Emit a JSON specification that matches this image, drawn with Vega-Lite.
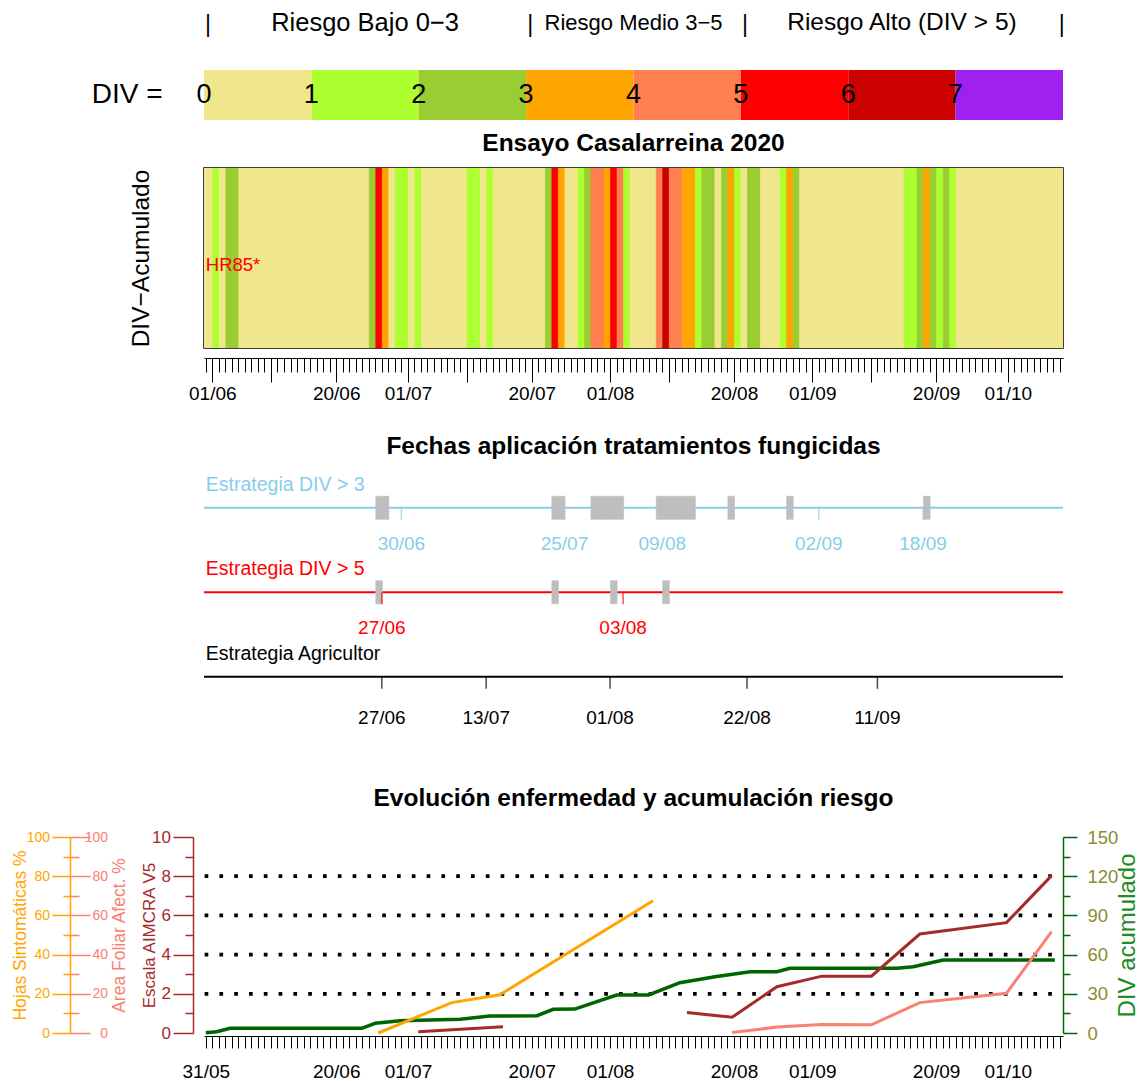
{
  "$schema": "https://vega.github.io/schema/vega-lite/v6.json",
  "autosize": {"type": "pad"},
  "padding": {"left": 11, "top": 0, "right": 0, "bottom": 0},
  "background": "white",
  "config": {
    "view": {"stroke": null},
    "font": "Liberation Sans",
    "title": {"fontSize": 24.5, "fontWeight": "bold", "color": "black", "anchor": "middle", "frame": "group"},
    "axis": {"grid": false, "domainColor": "black", "tickColor": "black", "labelColor": "black", "titleColor": "black", "titleFontWeight": "normal", "labelFont": "Liberation Sans", "titleFont": "Liberation Sans"}
  },
  "datasets": {
    "escala": [
      {"div": 0, "hasta": 1}, {"div": 1, "hasta": 2}, {"div": 2, "hasta": 3}, {"div": 3, "hasta": 4},
      {"div": 4, "hasta": 5}, {"div": 5, "hasta": 6}, {"div": 6, "hasta": 7}, {"div": 7, "hasta": 8}
    ],
    "diario": [
      {"fecha": "2020-05-30", "div": 0.5}, {"fecha": "2020-05-31", "div": 0.5},
      {"fecha": "2020-06-01", "div": 1.5}, {"fecha": "2020-06-02", "div": 0.5}, {"fecha": "2020-06-03", "div": 2.5}, {"fecha": "2020-06-04", "div": 2.5},
      {"fecha": "2020-06-05", "div": 0.5}, {"fecha": "2020-06-06", "div": 0.5}, {"fecha": "2020-06-07", "div": 0.5}, {"fecha": "2020-06-08", "div": 0.5},
      {"fecha": "2020-06-09", "div": 0.5}, {"fecha": "2020-06-10", "div": 0.5}, {"fecha": "2020-06-11", "div": 0.5}, {"fecha": "2020-06-12", "div": 0.5},
      {"fecha": "2020-06-13", "div": 0.5}, {"fecha": "2020-06-14", "div": 0.5}, {"fecha": "2020-06-15", "div": 0.5}, {"fecha": "2020-06-16", "div": 0.5},
      {"fecha": "2020-06-17", "div": 0.5}, {"fecha": "2020-06-18", "div": 0.5}, {"fecha": "2020-06-19", "div": 0.5}, {"fecha": "2020-06-20", "div": 0.5},
      {"fecha": "2020-06-21", "div": 0.5}, {"fecha": "2020-06-22", "div": 0.5}, {"fecha": "2020-06-23", "div": 0.5}, {"fecha": "2020-06-24", "div": 0.5},
      {"fecha": "2020-06-25", "div": 2.5}, {"fecha": "2020-06-26", "div": 5.5}, {"fecha": "2020-06-27", "div": 3.5}, {"fecha": "2020-06-28", "div": 0.5},
      {"fecha": "2020-06-29", "div": 1.5}, {"fecha": "2020-06-30", "div": 1.5},
      {"fecha": "2020-07-01", "div": 0.5}, {"fecha": "2020-07-02", "div": 1.5}, {"fecha": "2020-07-03", "div": 0.5}, {"fecha": "2020-07-04", "div": 0.5},
      {"fecha": "2020-07-05", "div": 0.5}, {"fecha": "2020-07-06", "div": 0.5}, {"fecha": "2020-07-07", "div": 0.5}, {"fecha": "2020-07-08", "div": 0.5},
      {"fecha": "2020-07-09", "div": 0.5}, {"fecha": "2020-07-10", "div": 1.5}, {"fecha": "2020-07-11", "div": 1.5}, {"fecha": "2020-07-12", "div": 0.5},
      {"fecha": "2020-07-13", "div": 1.5}, {"fecha": "2020-07-14", "div": 0.5}, {"fecha": "2020-07-15", "div": 0.5}, {"fecha": "2020-07-16", "div": 0.5},
      {"fecha": "2020-07-17", "div": 0.5}, {"fecha": "2020-07-18", "div": 0.5}, {"fecha": "2020-07-19", "div": 0.5}, {"fecha": "2020-07-20", "div": 0.5},
      {"fecha": "2020-07-21", "div": 0.5}, {"fecha": "2020-07-22", "div": 2.5}, {"fecha": "2020-07-23", "div": 5.5}, {"fecha": "2020-07-24", "div": 3.5},
      {"fecha": "2020-07-25", "div": 0.5}, {"fecha": "2020-07-26", "div": 0.5}, {"fecha": "2020-07-27", "div": 1.5}, {"fecha": "2020-07-28", "div": 2.5},
      {"fecha": "2020-07-29", "div": 4.5}, {"fecha": "2020-07-30", "div": 4.5}, {"fecha": "2020-07-31", "div": 3.5},
      {"fecha": "2020-08-01", "div": 5.5}, {"fecha": "2020-08-02", "div": 4.5}, {"fecha": "2020-08-03", "div": 1.5}, {"fecha": "2020-08-04", "div": 0.5},
      {"fecha": "2020-08-05", "div": 0.5}, {"fecha": "2020-08-06", "div": 0.5}, {"fecha": "2020-08-07", "div": 0.5}, {"fecha": "2020-08-08", "div": 4.5},
      {"fecha": "2020-08-09", "div": 6.5}, {"fecha": "2020-08-10", "div": 4.5}, {"fecha": "2020-08-11", "div": 4.5}, {"fecha": "2020-08-12", "div": 3.5},
      {"fecha": "2020-08-13", "div": 3.5}, {"fecha": "2020-08-14", "div": 1.5}, {"fecha": "2020-08-15", "div": 2.5}, {"fecha": "2020-08-16", "div": 2.5},
      {"fecha": "2020-08-17", "div": 0.5}, {"fecha": "2020-08-18", "div": 2.5}, {"fecha": "2020-08-19", "div": 3.5}, {"fecha": "2020-08-20", "div": 1.5},
      {"fecha": "2020-08-21", "div": 0.5}, {"fecha": "2020-08-22", "div": 2.5}, {"fecha": "2020-08-23", "div": 2.5}, {"fecha": "2020-08-24", "div": 0.5},
      {"fecha": "2020-08-25", "div": 0.5}, {"fecha": "2020-08-26", "div": 0.5}, {"fecha": "2020-08-27", "div": 1.5}, {"fecha": "2020-08-28", "div": 3.5},
      {"fecha": "2020-08-29", "div": 2.5}, {"fecha": "2020-08-30", "div": 0.5}, {"fecha": "2020-08-31", "div": 0.5},
      {"fecha": "2020-09-01", "div": 0.5}, {"fecha": "2020-09-02", "div": 0.5}, {"fecha": "2020-09-03", "div": 0.5}, {"fecha": "2020-09-04", "div": 0.5},
      {"fecha": "2020-09-05", "div": 0.5}, {"fecha": "2020-09-06", "div": 0.5}, {"fecha": "2020-09-07", "div": 0.5}, {"fecha": "2020-09-08", "div": 0.5},
      {"fecha": "2020-09-09", "div": 0.5}, {"fecha": "2020-09-10", "div": 0.5}, {"fecha": "2020-09-11", "div": 0.5}, {"fecha": "2020-09-12", "div": 0.5},
      {"fecha": "2020-09-13", "div": 0.5}, {"fecha": "2020-09-14", "div": 0.5}, {"fecha": "2020-09-15", "div": 1.5}, {"fecha": "2020-09-16", "div": 1.5},
      {"fecha": "2020-09-17", "div": 2.5}, {"fecha": "2020-09-18", "div": 3.5}, {"fecha": "2020-09-19", "div": 2.5}, {"fecha": "2020-09-20", "div": 1.5},
      {"fecha": "2020-09-21", "div": 2.5}, {"fecha": "2020-09-22", "div": 1.5}, {"fecha": "2020-09-23", "div": 0.5}, {"fecha": "2020-09-24", "div": 0.5},
      {"fecha": "2020-09-25", "div": 0.5}, {"fecha": "2020-09-26", "div": 0.5}, {"fecha": "2020-09-27", "div": 0.5}, {"fecha": "2020-09-28", "div": 0.5},
      {"fecha": "2020-09-29", "div": 0.5}, {"fecha": "2020-09-30", "div": 0.5},
      {"fecha": "2020-10-01", "div": 0.5}, {"fecha": "2020-10-02", "div": 0.5}, {"fecha": "2020-10-03", "div": 0.5}, {"fecha": "2020-10-04", "div": 0.5},
      {"fecha": "2020-10-05", "div": 0.5}, {"fecha": "2020-10-06", "div": 0.5}, {"fecha": "2020-10-07", "div": 0.5}, {"fecha": "2020-10-08", "div": 0.5},
      {"fecha": "2020-10-09", "div": 0.5}
    ],
    "estrategias": [
      {"estrategia": "DIV > 3", "nombre": "Estrategia DIV > 3"},
      {"estrategia": "DIV > 5", "nombre": "Estrategia DIV > 5"},
      {"estrategia": "Agricultor", "nombre": "Estrategia Agricultor"}
    ],
    "tratamientos": [
      {"estrategia": "DIV > 3", "fecha": "2020-06-30"}, {"estrategia": "DIV > 3", "fecha": "2020-07-25"},
      {"estrategia": "DIV > 3", "fecha": "2020-08-09"}, {"estrategia": "DIV > 3", "fecha": "2020-09-02"},
      {"estrategia": "DIV > 3", "fecha": "2020-09-18"},
      {"estrategia": "DIV > 5", "fecha": "2020-06-27"}, {"estrategia": "DIV > 5", "fecha": "2020-08-03"},
      {"estrategia": "Agricultor", "fecha": "2020-06-27"}, {"estrategia": "Agricultor", "fecha": "2020-07-13"},
      {"estrategia": "Agricultor", "fecha": "2020-08-01"}, {"estrategia": "Agricultor", "fecha": "2020-08-22"},
      {"estrategia": "Agricultor", "fecha": "2020-09-11"}
    ],
    "aimcra": [
      {"tramo": 1, "fecha": "2020-07-02T14:00:00Z", "valor": 0.07},
      {"tramo": 1, "fecha": "2020-07-15T14:00:00Z", "valor": 0.32},
      {"tramo": 2, "fecha": "2020-08-12T19:00:00Z", "valor": 1.04},
      {"tramo": 2, "fecha": "2020-08-19T17:00:00Z", "valor": 0.8},
      {"tramo": 2, "fecha": "2020-08-26T14:00:00Z", "valor": 2.36},
      {"tramo": 2, "fecha": "2020-09-02T12:00:00Z", "valor": 2.9},
      {"tramo": 2, "fecha": "2020-09-10T02:00:00Z", "valor": 2.9},
      {"tramo": 2, "fecha": "2020-09-17T12:00:00Z", "valor": 5.05},
      {"tramo": 2, "fecha": "2020-09-30T19:00:00Z", "valor": 5.63},
      {"tramo": 2, "fecha": "2020-10-07T17:00:00Z", "valor": 8.03}
    ],
    "hojas": [
      {"fecha": "2020-06-26T11:00:00Z", "valor": 0},
      {"fecha": "2020-07-07T17:00:00Z", "valor": 15.5},
      {"fecha": "2020-07-15T02:00:00Z", "valor": 19.5},
      {"fecha": "2020-08-07T14:00:00Z", "valor": 67.5}
    ],
    "area": [
      {"fecha": "2020-08-19T17:00:00Z", "valor": 0.3},
      {"fecha": "2020-08-26T14:00:00Z", "valor": 3.0},
      {"fecha": "2020-09-02T12:00:00Z", "valor": 4.3},
      {"fecha": "2020-09-10T02:00:00Z", "valor": 4.2},
      {"fecha": "2020-09-17T12:00:00Z", "valor": 15.5},
      {"fecha": "2020-09-30T19:00:00Z", "valor": 20.3},
      {"fecha": "2020-10-07T17:00:00Z", "valor": 51.7}
    ],
    "divacum": [
      {"fecha": "2020-05-31T00:00:00Z", "valor": 0.2},
      {"fecha": "2020-06-01T16:00:00Z", "valor": 1.0},
      {"fecha": "2020-06-03T17:00:00Z", "valor": 3.6},
      {"fecha": "2020-06-23T22:00:00Z", "valor": 3.6},
      {"fecha": "2020-06-26T00:00:00Z", "valor": 7.4},
      {"fecha": "2020-06-29T19:00:00Z", "valor": 9.4},
      {"fecha": "2020-07-09T00:00:00Z", "valor": 10.5},
      {"fecha": "2020-07-13T14:00:00Z", "valor": 13.0},
      {"fecha": "2020-07-20T19:00:00Z", "valor": 13.2},
      {"fecha": "2020-07-23T07:00:00Z", "valor": 18.1},
      {"fecha": "2020-07-26T14:00:00Z", "valor": 18.3},
      {"fecha": "2020-08-02T00:00:00Z", "valor": 29.1},
      {"fecha": "2020-08-06T22:00:00Z", "valor": 29.1},
      {"fecha": "2020-08-11T17:00:00Z", "valor": 38.5},
      {"fecha": "2020-08-17T02:00:00Z", "valor": 43.1},
      {"fecha": "2020-08-22T12:00:00Z", "valor": 46.9},
      {"fecha": "2020-08-26T14:00:00Z", "valor": 46.9},
      {"fecha": "2020-08-28T14:00:00Z", "valor": 49.5},
      {"fecha": "2020-09-14T00:00:00Z", "valor": 49.5},
      {"fecha": "2020-09-16T12:00:00Z", "valor": 50.7},
      {"fecha": "2020-09-21T02:00:00Z", "valor": 55.9},
      {"fecha": "2020-10-08T05:00:00Z", "valor": 55.9}
    ]
  },
  "spacing": 48,
  "bounds": "flush",
  "resolve": {"scale": {"color": "independent", "x": "independent", "y": "independent"}},
  "vconcat": [
    {
      "width": 859,
      "height": 120,
      "layer": [
        {
          "data": {"name": "escala"},
          "mark": {"type": "rect"},
          "encoding": {
            "x": {"field": "div", "type": "quantitative", "scale": {"domain": [0, 8], "nice": false, "zero": false}, "axis": null},
            "x2": {"field": "hasta"},
            "y": {"datum": "DIV =", "type": "nominal", "scale": {"type": "band", "domain": ["rango", "DIV ="], "paddingInner": 0.2857, "paddingOuter": 0},
                  "axis": {"title": null, "domain": false, "ticks": false, "labelExpr": "datum.value == 'DIV =' ? 'DIV =' : ''", "labelFontSize": 28, "labelPadding": 42, "labelColor": "black"}},
            "color": {"field": "div", "type": "quantitative", "legend": null,
                      "scale": {"type": "threshold", "domain": [1, 2, 3, 4, 5, 6, 7], "range": ["#F0E68C", "#ADFF2F", "#9ACD32", "#FFA500", "#FF7F50", "#FF0000", "#CD0000", "#A020F0"]}}
          }
        },
        {
          "data": {"name": "escala"},
          "mark": {"type": "text", "fontSize": 27, "color": "black", "baseline": "middle", "align": "center"},
          "encoding": {
            "x": {"field": "div", "type": "quantitative"},
            "y": {"datum": "DIV =", "type": "nominal"},
            "text": {"field": "div", "type": "quantitative", "format": "d"}
          }
        },
        {
          "data": {"values": [{"texto": "|", "div": 0}, {"texto": "|", "div": 3}, {"texto": "|", "div": 5}, {"texto": "|", "div": 7.95}]},
          "mark": {"type": "text", "fontSize": 23, "color": "black", "baseline": "middle", "align": "center", "dx": 4},
          "encoding": {
            "x": {"field": "div", "type": "quantitative"},
            "y": {"datum": "rango", "type": "nominal"},
            "text": {"field": "texto"}
          }
        },
        {
          "data": {"values": [{"texto": "Riesgo Bajo 0−3", "div": 1.5}]},
          "mark": {"type": "text", "fontSize": 25.5, "color": "black", "baseline": "middle", "align": "center", "dy": -2},
          "encoding": {"x": {"field": "div", "type": "quantitative"}, "y": {"datum": "rango", "type": "nominal"}, "text": {"field": "texto"}}
        },
        {
          "data": {"values": [{"texto": "Riesgo Medio 3−5", "div": 4}]},
          "mark": {"type": "text", "fontSize": 22, "color": "black", "baseline": "middle", "align": "center", "dy": -2},
          "encoding": {"x": {"field": "div", "type": "quantitative"}, "y": {"datum": "rango", "type": "nominal"}, "text": {"field": "texto"}}
        },
        {
          "data": {"values": [{"texto": "Riesgo Alto (DIV > 5)", "div": 6.5}]},
          "mark": {"type": "text", "fontSize": 24.5, "color": "black", "baseline": "middle", "align": "center", "dy": -2},
          "encoding": {"x": {"field": "div", "type": "quantitative"}, "y": {"datum": "rango", "type": "nominal"}, "text": {"field": "texto"}}
        }
      ]
    },
    {
      "spacing": 117.5,
      "bounds": "flush",
      "resolve": {"scale": {"color": "independent", "x": "independent", "y": "independent"}},
      "vconcat": [
        {
          "width": 859,
          "height": 180,
          "title": {"text": "Ensayo Casalarreina 2020", "offset": 12},
          "view": {"stroke": "black", "strokeWidth": 1.5},
          "layer": [
            {
              "data": {"name": "diario"},
              "mark": {"type": "rect", "clip": true, "binSpacing": 0, "strokeWidth": 0.7},
              "encoding": {
                "x": {"field": "fecha", "type": "temporal", "timeUnit": "utcyearmonthdate",
                      "scale": {"type": "utc", "nice": false, "domain": [{"year": 2020, "month": 5, "date": 30, "hours": 17, "minutes": 30, "utc": true}, {"year": 2020, "month": 10, "date": 9, "hours": 11, "utc": true}]},
                      "axis": {"orient": "bottom", "offset": 10, "title": null, "tickCount": {"interval": "day", "step": 1},
                               "tickSize": {"condition": {"test": "utcdate(datum.value) == 1 || utcdate(datum.value) == 10 || utcdate(datum.value) == 20", "value": 24}, "value": 14},
                               "labelExpr": "utcdate(datum.value) == 1 || utcdate(datum.value) == 20 ? utcFormat(datum.value, '%d/%m') : ''",
                               "labelOverlap": false, "labelFlush": false, "labelBound": false, "labelFontSize": 19, "labelPadding": 2, "domainWidth": 1, "tickWidth": 1}},
                "y": {"datum": 0, "type": "quantitative", "scale": {"domain": [0, 1], "nice": false}},
                "y2": {"datum": 1},
                "color": {"field": "div", "type": "quantitative", "legend": null,
                          "scale": {"type": "threshold", "domain": [1, 2, 3, 4, 5, 6, 7], "range": ["#F0E68C", "#ADFF2F", "#9ACD32", "#FFA500", "#FF7F50", "#FF0000", "#CD0000", "#A020F0"]}},
                "stroke": {"field": "div", "type": "quantitative", "legend": null,
                          "scale": {"type": "threshold", "domain": [1, 2, 3, 4, 5, 6, 7], "range": ["#F0E68C", "#ADFF2F", "#9ACD32", "#FFA500", "#FF7F50", "#FF0000", "#CD0000", "#A020F0"]}}
              }
            },
            {
              "data": {"values": [{"texto": "HR85*", "fecha": "2020-05-31"}]},
              "mark": {"type": "text", "align": "left", "baseline": "middle", "color": "#FF0000", "fontSize": 18.5},
              "encoding": {
                "x": {"field": "fecha", "type": "temporal"},
                "y": {"datum": 0.46, "type": "quantitative",
                      "axis": {"title": "DIV−Acumulado", "labels": false, "ticks": false, "domain": false, "titleFontSize": 24.5, "titlePadding": 51}},
                "text": {"field": "texto"}
              }
            }
          ]
        },
        {
          "width": 859,
          "height": 253.6,
          "title": {"text": "Fechas aplicación tratamientos fungicidas", "offset": 6},
          "layer": [
            {
              "data": {"name": "estrategias"},
              "mark": {"type": "rule", "strokeWidth": 2},
              "encoding": {
                "y": {"field": "estrategia", "type": "nominal", "bandPosition": 0.5, "axis": null,
                      "scale": {"type": "band", "domain": ["DIV > 3", "DIV > 5", "Agricultor"], "paddingInner": 0.7278, "paddingOuter": 0.364}},
                "color": {"field": "estrategia", "type": "nominal", "legend": null, "scale": {"domain": ["DIV > 3", "DIV > 5", "Agricultor"], "range": ["#87CEEB", "#FF0000", "#000000"]}}
              }
            },
            {
              "data": {"name": "diario"},
              "transform": [{"filter": "datum.div > 3"}],
              "mark": {"type": "rect", "color": "#BEBEBE", "stroke": "#BEBEBE", "strokeWidth": 0.7, "binSpacing": 0},
              "encoding": {
                "x": {"field": "fecha", "type": "temporal", "timeUnit": "utcyearmonthdate", "axis": null,
                      "scale": {"type": "utc", "nice": false, "domain": [{"year": 2020, "month": 5, "date": 30, "hours": 17, "minutes": 30, "utc": true}, {"year": 2020, "month": 10, "date": 9, "hours": 11, "utc": true}]}},
                "y": {"datum": "DIV > 3", "type": "nominal"}
              }
            },
            {
              "data": {"name": "diario"},
              "transform": [{"filter": "datum.div > 5"}],
              "mark": {"type": "rect", "color": "#BEBEBE", "stroke": "#BEBEBE", "strokeWidth": 0.7, "binSpacing": 0},
              "encoding": {
                "x": {"field": "fecha", "type": "temporal", "timeUnit": "utcyearmonthdate", "axis": null},
                "y": {"datum": "DIV > 5", "type": "nominal"}
              }
            },
            {
              "data": {"name": "tratamientos"},
              "mark": {"type": "tick", "size": 12, "thickness": 1.5, "yOffset": 6},
              "encoding": {
                "x": {"field": "fecha", "type": "temporal", "axis": null},
                "y": {"field": "estrategia", "type": "nominal"},
                "color": {"field": "estrategia", "type": "nominal", "legend": null}
              }
            },
            {
              "data": {"name": "tratamientos"},
              "transform": [{"filter": "datum.estrategia != 'Agricultor'"}],
              "mark": {"type": "text", "fontSize": 19, "baseline": "middle", "align": "center", "dy": 36},
              "encoding": {
                "x": {"field": "fecha", "type": "temporal", "axis": null},
                "y": {"field": "estrategia", "type": "nominal"},
                "color": {"field": "estrategia", "type": "nominal", "legend": null},
                "text": {"field": "fecha", "type": "temporal", "timeUnit": "utcmonthdate", "format": "%d/%m"}
              }
            },
            {
              "data": {"name": "tratamientos"},
              "transform": [{"filter": "datum.estrategia == 'Agricultor'"}],
              "mark": {"type": "text", "fontSize": 19, "baseline": "middle", "align": "center", "dy": 41},
              "encoding": {
                "x": {"field": "fecha", "type": "temporal", "axis": null},
                "y": {"field": "estrategia", "type": "nominal"},
                "color": {"field": "estrategia", "type": "nominal", "legend": null},
                "text": {"field": "fecha", "type": "temporal", "timeUnit": "utcmonthdate", "format": "%d/%m"}
              }
            },
            {
              "data": {"name": "estrategias"},
              "mark": {"type": "text", "fontSize": 19.5, "baseline": "middle", "align": "left", "dy": -23},
              "encoding": {
                "x": {"datum": {"year": 2020, "month": 5, "date": 31, "utc": true}, "type": "temporal", "axis": null},
                "y": {"field": "estrategia", "type": "nominal"},
                "color": {"field": "estrategia", "type": "nominal", "legend": null},
                "text": {"field": "nombre"}
              }
            }
          ]
        },
        {
          "width": 859,
          "height": 196,
          "title": {"text": "Evolución enfermedad y acumulación riesgo", "offset": 17},
          "resolve": {"scale": {"y": "independent"}, "axis": {"y": "independent"}},
          "layer": [
            {
              "data": {"values": [{"nivel": 2}, {"nivel": 4}, {"nivel": 6}, {"nivel": 8}]},
              "mark": {"type": "rule", "color": "black", "strokeWidth": 3.7, "strokeDash": [3.7, 11.1], "strokeDashOffset": 3.7},
              "encoding": {"y": {"field": "nivel", "type": "quantitative", "scale": {"domain": [0, 10], "nice": false}, "axis": null}}
            },
            {
              "data": {"name": "divacum"},
              "mark": {"type": "line", "color": "#006400", "strokeWidth": 3.5},
              "encoding": {
                "x": {"field": "fecha", "type": "temporal",
                      "scale": {"type": "utc", "nice": false, "domain": [{"year": 2020, "month": 5, "date": 30, "hours": 17, "minutes": 30, "utc": true}, {"year": 2020, "month": 10, "date": 9, "hours": 11, "utc": true}]},
                      "axis": {"orient": "bottom", "offset": 3, "title": null, "tickCount": {"interval": "day", "step": 1}, "tickSize": 12,
                               "labelExpr": "(utcdate(datum.value) == 20 || (utcdate(datum.value) == 1 && utcmonth(datum.value) != 5) || (utcdate(datum.value) == 31 && utcmonth(datum.value) == 4)) ? utcFormat(datum.value, '%d/%m') : ''",
                               "labelOverlap": false, "labelFlush": false, "labelBound": false, "labelFontSize": 19, "labelPadding": 14}},
                "y": {"field": "valor", "type": "quantitative", "scale": {"domain": [0, 150], "nice": false},
                      "axis": {"orient": "right", "offset": 0, "values": [0, 15, 30, 45, 60, 75, 90, 105, 120, 135, 150],
                               "tickSize": {"condition": {"test": "datum.value % 30 == 0", "value": 14}, "value": 7},
                               "labelExpr": "datum.value % 30 == 0 ? datum.label : ''", "labelFontSize": 18.5, "labelColor": "#8B8B30", "labelPadding": 10,
                               "labelOverlap": false, "labelFlush": false, "labelBound": false,
                               "domainColor": "#006400", "tickColor": "#006400", "domainWidth": 1.5, "tickWidth": 1.5,
                               "title": "DIV acumulado", "titleColor": "#228B22", "titleFontSize": 24, "titleAngle": 270, "titleBaseline": "top", "titlePadding": -2}}
              }
            },
            {
              "data": {"name": "aimcra"},
              "mark": {"type": "line", "color": "#A52A2A", "strokeWidth": 3},
              "encoding": {
                "x": {"field": "fecha", "type": "temporal"},
                "y": {"field": "valor", "type": "quantitative", "scale": {"domain": [0, 10], "nice": false},
                      "axis": {"orient": "left", "offset": 11, "values": [0, 1, 2, 3, 4, 5, 6, 7, 8, 9, 10],
                               "tickSize": {"condition": {"test": "datum.value % 2 == 0", "value": 20}, "value": 8},
                               "labelExpr": "datum.value % 2 == 0 ? datum.label : ''", "labelFontSize": 17, "labelColor": "#A52A2A", "labelPadding": 2.5,
                               "labelOverlap": false, "labelFlush": false, "labelBound": false,
                               "domainColor": "#A52A2A", "tickColor": "#A52A2A", "domainWidth": 1.5, "tickWidth": 1.5,
                               "title": "Escala AIMCRA V5", "titleColor": "#A52A2A", "titleFontSize": 17, "titlePadding": -6.5}},
                "detail": {"field": "tramo", "type": "nominal"}
              }
            },
            {
              "data": {"name": "hojas"},
              "mark": {"type": "line", "color": "#FFA500", "strokeWidth": 3},
              "encoding": {
                "x": {"field": "fecha", "type": "temporal"},
                "y": {"field": "valor", "type": "quantitative", "scale": {"domain": [0, 100], "nice": false},
                      "axis": {"orient": "left", "offset": 134, "values": [0, 10, 20, 30, 40, 50, 60, 70, 80, 90, 100],
                               "tickSize": {"condition": {"test": "datum.value % 20 == 0", "value": 18}, "value": 7},
                               "labelExpr": "datum.value % 20 == 0 ? datum.label : ''", "labelFont": "Liberation Sans Narrow, Liberation Sans", "labelFontSize": 14, "labelColor": "#FFA500", "labelPadding": 2.5,
                               "labelOverlap": false, "labelFlush": false, "labelBound": false,
                               "domainColor": "#FFA500", "tickColor": "#FFA500", "domainWidth": 1.5, "tickWidth": 1.5,
                               "title": "Hojas Sintomáticas %", "titleColor": "#FFA500", "titleFontSize": 17.5, "titlePadding": -3.5}}
              }
            },
            {
              "data": {"name": "area"},
              "mark": {"type": "line", "color": "#FA8072", "strokeWidth": 3},
              "encoding": {
                "x": {"field": "fecha", "type": "temporal"},
                "y": {"field": "valor", "type": "quantitative", "scale": {"domain": [0, 100], "nice": false},
                      "axis": {"orient": "right", "offset": -993, "values": [0, 10, 20, 30, 40, 50, 60, 70, 80, 90, 100],
                               "tickSize": {"condition": {"test": "datum.value % 20 == 0", "value": 20}, "value": 9},
                               "labelExpr": "datum.value % 20 == 0 ? datum.label : ''", "labelFont": "Liberation Sans Narrow, Liberation Sans", "labelFontSize": 14, "labelColor": "#FA8072",
                               "labelAlign": "right", "labelPadding": 17.5,
                               "labelOverlap": false, "labelFlush": false, "labelBound": false,
                               "domain": false, "tickColor": "#FA8072", "tickWidth": 1.5,
                               "title": "Area Foliar Afect. %", "titleColor": "#FA8072", "titleFontSize": 17.5, "titleAngle": 270, "titleBaseline": "top", "titlePadding": 2.5}}
              }
            }
          ]
        }
      ]
    }
  ]
}
